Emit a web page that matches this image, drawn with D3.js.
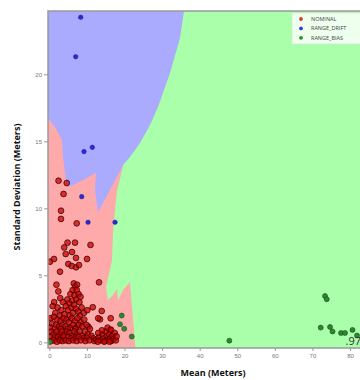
<!DOCTYPE html>
<html>
<head>
<meta charset="utf-8">
<script src="https://cdn.jsdelivr.net/npm/d3@7"></script>
<style>
  body { margin: 0; background: #fff; }
  svg { display: block; font-family: "Open Sans", "DejaVu Sans", sans-serif; }
  .axis text { font-size: 6px; fill: #777; }
  .axis line { stroke: #999; }
  .axis path { display: none; }
  .label { font-size: 9px; font-weight: bold; fill: #111; }
  .legend text { font-size: 5.5px; fill: #444; }
</style>
</head>
<body>
<svg id="chart" width="360" height="380"></svg>
<script>
// ---- data ----
const xTicks = [0, 10, 20, 30, 40, 50, 60, 70, 80];
const yTicks = [0, 5, 10, 15, 20];
const classes = ["NOMINAL", "RANGE_DRIFT", "RANGE_BIAS"];
const score = ".97";

// decision regions, [mean, std]
const driftRegion = [[-1,26],[36.3,26],[35.83,24.72],[34.77,22.71],[32.11,20.1],[28.92,17.56],[26.79,16.22],
  [24.13,14.88],[21.47,13.83],[19.61,13.23],[18.01,11.37],[16,9],[-1,9]];
const nominalRegion = [[-1,16.96],[1.52,16.07],[3.38,15.1],[3.64,13.83],[4.44,12.11],[4.71,11.59],[6.3,11.74],
  [8.96,12.11],[12.42,12.64],[12.16,11.37],[12.96,9.73],[14.02,10.25],[16.15,11.37],[19.61,13.23],[18.01,11.37],
  [17.48,9.88],[16.95,8.17],[16.68,6.09],[15.08,4.13],[15.62,3.16],[16.68,3.46],[18.01,3.98],[18.28,3.16],
  [19.61,3.91],[21.47,4.51],[22.0,2.65],[22.53,0.93],[23.06,-1],[-1,-1]];

const nominalPts = [
  [2.45,12.06],[4.63,11.89],[3.78,11.07],[3.11,9.82],[3.11,9.21],[7.29,8.88],[4.84,7.44],[6.84,7.44],[10.96,7.27],
  [3.96,7.08],[6.04,6.74],[4.36,6.59],[7.1,6.3],[0.19,6.02],[1.25,6.22],[10.03,6.22],[5.05,5.85],[5.96,5.7],
  [7.1,5.6],[7.9,5.77],[2.85,5.27],[13.22,4.48],[11.55,2.62],[13.94,2.34],[13.49,1.72],[16.33,1.8],[16.15,0.93],
  [13.0,1.8],[10.4,1.17],
  [6.5,4.4],[6.9,4.15],[7.4,4.3],[1.9,4.3],[6.2,3.9],[7.3,3.9],
  [2.4,3.8],[5.6,3.6],[6.7,3.5],[7.8,3.6],[2.9,3.3],[4.8,3.2],[6.1,3.1],[7.2,3.2],[8.3,3.4],[1.3,3.0],[3.6,3.0],
  [5.3,2.9],[8.0,3.0],
  [0.9,2.7],[2.2,2.6],[3.2,2.4],[4.4,2.7],[5.0,2.4],[5.9,2.6],[6.6,2.8],[7.1,2.5],[7.7,2.3],[8.6,2.6],[9.2,2.2],
  [1.6,2.2],[2.8,2.0],[4.0,2.1],[5.5,2.0],[6.3,2.2],[8.1,2.0],[10.1,2.4],
  [0.3,1.8],[1.2,1.9],[2.1,1.7],[3.0,1.6],[3.8,1.8],[4.6,1.7],[5.2,1.5],[6.0,1.8],[6.8,1.6],[7.5,1.8],[8.4,1.5],
  [9.3,1.7],[0.7,1.4],[1.8,1.3],[2.6,1.2],[3.5,1.3],[4.3,1.2],[5.6,1.1],[6.4,1.3],[7.1,1.1],[7.9,1.3],[8.8,1.2],
  [9.9,1.3],[10.8,1.0],[0.2,1.1],[1.4,1.0],[3.1,1.0],[4.9,1.0],[6.9,1.0],
  [0.5,0.8],[1.1,0.6],[1.9,0.8],[2.7,0.6],[3.4,0.8],[4.1,0.6],[4.7,0.8],[5.4,0.7],[6.1,0.5],[6.7,0.8],[7.4,0.6],
  [8.1,0.8],[8.7,0.5],[9.5,0.8],[10.3,0.6],[11.2,0.5],[0.2,0.4],[1.5,0.35],[2.3,0.4],[3.0,0.3],[3.8,0.45],
  [5.0,0.4],[5.8,0.3],[7.0,0.35],[7.8,0.4],[9.1,0.3],[10.0,0.35],[11.7,0.3],
  [0.4,0.1],[1.2,0.15],[2.0,0.05],[2.8,0.15],[3.5,0.1],[4.4,0.15],[5.2,0.1],[6.3,0.15],[7.3,0.1],[8.4,0.15],
  [9.6,0.1],[10.7,0.15],[12.0,0.1],
  [12.5,0.2],[13.2,0.4],[13.6,0.15],[14.1,0.6],[14.4,0.3],[14.8,0.1],[15.0,0.8],[15.3,0.45],[15.6,0.2],[15.9,0.6],
  [16.2,0.3],[16.5,0.1],[16.8,0.5],[17.1,0.25],[17.4,0.7],[17.7,0.15],[14.0,0.9],[15.5,1.1],[16.4,0.95],[13.0,0.7],
  [17.9,0.45],[14.6,0.05],[16.0,0.05],[12.9,0.05]
];
const driftPts = [[8.35,24.25],[7.02,21.31],[9.23,14.23],[11.44,14.55],[8.62,10.87],[10.3,8.96],[17.48,8.96]];
const biasPts = [[47.89,0.13],[73.34,3.46],[73.8,3.22],[72.2,1.1],[74.67,1.15],[75.34,0.81],[77.6,0.7],[78.66,0.7],
  [80.66,0.93],[81.86,0.51],[19.26,2.0],[18.81,1.35],[19.93,1.01],[21.92,0.43],[0.13,0.03]];

// ---- layout ----
const margin = {left: 48, top: 11};
const width = 313, height = 337;

const svg = d3.select("#chart");
const g = svg.append("g").attr("transform", "translate(" + margin.left + "," + margin.top + ")");

const x = d3.scaleLinear().domain([-0.35, -0.35 + width / 3.759]).range([0, width]);
const y = d3.scaleLinear().domain([-0.42, -0.42 + height / 13.405]).range([height, 0]);

g.append("clipPath").attr("id", "plotClip")
  .append("rect").attr("width", width).attr("height", height);

const plot = g.append("g").attr("clip-path", "url(#plotClip)");

// background = RANGE_BIAS region
plot.append("rect").attr("width", width).attr("height", height).style("fill", "#aaffaa");

const line = d3.line().x(d => x(d[0])).y(d => y(d[1]));
plot.append("path").attr("d", line(driftRegion) + "Z").style("fill", "#aaaaff");
plot.append("path").attr("d", line(nominalRegion) + "Z").style("fill", "#ffaaaa");

plot.selectAll(".nom").data(nominalPts).enter().append("circle")
  .attr("class", "nom")
  .attr("cx", d => x(d[0])).attr("cy", d => y(d[1])).attr("r", 2.9)
  .style("fill", "#cc0000").style("fill-opacity", 0.75)
  .style("stroke", "#2a0000").style("stroke-width", 0.7);

plot.selectAll(".drift").data(driftPts).enter().append("circle")
  .attr("class", "drift")
  .attr("cx", d => x(d[0])).attr("cy", d => y(d[1])).attr("r", 2.3)
  .style("fill", "#2a2ad0").style("stroke", "#1a1a90").style("stroke-width", 0.4);

plot.selectAll(".bias").data(biasPts).enter().append("circle")
  .attr("class", "bias")
  .attr("cx", d => x(d[0])).attr("cy", d => y(d[1])).attr("r", 2.5)
  .style("fill", "#2f862f").style("stroke", "#1a4a1a").style("stroke-width", 0.6);

// frame
g.append("rect").attr("width", width).attr("height", height)
  .style("fill", "none").style("stroke", "#999").style("stroke-width", 1.5);

// axes
g.append("g").attr("class", "axis")
  .attr("transform", "translate(0," + height + ")")
  .call(d3.axisBottom(x).tickValues(xTicks).tickSize(3).tickPadding(3));
g.append("g").attr("class", "axis")
  .call(d3.axisLeft(y).tickValues(yTicks).tickSize(4).tickPadding(2));

// score
g.append("text").attr("x", width).attr("y", height - 3)
  .style("text-anchor", "end").style("font-size", "11px").style("fill", "#333")
  .text(score);

// labels
svg.append("text").attr("class", "label")
  .attr("x", 213).attr("y", 376).style("text-anchor", "middle")
  .text("Mean (Meters)");
svg.append("text").attr("class", "label")
  .attr("transform", "translate(20,187) rotate(-90)").style("text-anchor", "middle")
  .text("Standard Deviation (Meters)");

// legend
const legendColors = ["#e03838", "#3a3ae0", "#2f8c2f"];
const legend = svg.append("g").attr("class", "legend").attr("transform", "translate(292,13)");
legend.append("rect").attr("width", 70).attr("height", 31)
  .style("fill", "#fff").style("fill-opacity", 0.8).style("stroke", "#ddd").style("stroke-width", 0.6);
const items = legend.selectAll(".item").data(classes).enter().append("g")
  .attr("class", "item")
  .attr("transform", (d, i) => "translate(0," + (6 + i * 9.4) + ")");
items.append("circle").attr("cx", 9).attr("cy", 0).attr("r", 1.9)
  .style("fill", (d, i) => legendColors[i]);
items.append("text").attr("x", 19).attr("y", 2).text(d => d);
</script>
</body>
</html>
